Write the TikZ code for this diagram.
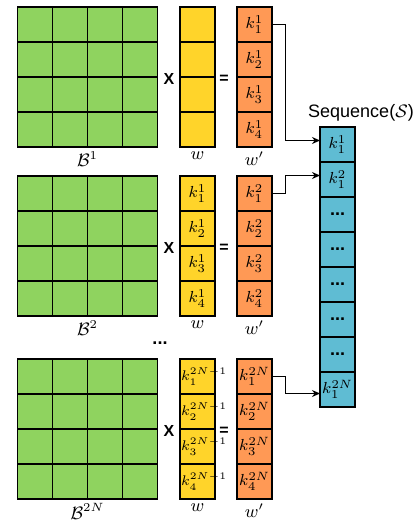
\documentclass[tikz,border=0pt]{standalone}
\usepackage{amsmath,amssymb}
\usepackage{fontspec}
\setsansfont{Liberation Sans}
\usetikzlibrary{positioning,calc}
\usetikzlibrary{arrows.meta}
\definecolor{GridGreen}{RGB}{143,211,95}
\definecolor{WYellow}{RGB}{255,212,42}
\definecolor{WOrange}{RGB}{255,153,85}
\definecolor{SeqBlue}{RGB}{95,188,211}
\newcommand{\seqdots}{{\sffamily\bfseries\fontsize{9}{10}\selectfont ...}}
\tikzset{
  cell/.style={draw=black,line width=0.6pt,minimum size=17.5pt,inner sep=0pt,outer sep=0pt,
    font=\fontsize{8}{9}\selectfont},
  bcell/.style={cell,fill=GridGreen},
  ycell/.style={cell,fill=WYellow},
  ocell/.style={cell,fill=WOrange},
  scell/.style={cell,fill=SeqBlue},
  op/.style={font=\sffamily\bfseries\fontsize{8}{9}\selectfont},
  lbl/.style={font=\fontsize{9}{10}\selectfont,inner sep=1pt},
  link/.style={draw=black,line width=0.5pt,-{Stealth[length=4pt,width=3.5pt]}},
}

\begin{document}
\begin{tikzpicture}[x=0.5pt,y=-0.5pt]
\useasboundingbox (0,0) rectangle (416,520);
% three blocks: B^k times w gives w'
\foreach \blk/\ytop/\bsup/\wsup in {1/7/1/0,2/176/2/1,3/359/2N/2N{-}1}{
  \foreach \r in {1,2,3,4}{
    \foreach \c in {1,2,3,4}
      \node[bcell] (b\blk-\r-\c) at ({35*\c},{\ytop+35*\r-17.5}) {};
    \node[ycell] (w\blk-\r) at (197.5,{\ytop+35*\r-17.5})
      {\ifcase\blk\or\or\makebox[0pt]{$k_{\r}^{\wsup}$}\or
       \fontsize{7}{8}\selectfont\makebox[0pt][l]{\hspace{-8.2pt}$k_{\r}^{\wsup}$}\fi};
    \node[ocell] (o\blk-\r) at (254.5,{\ytop+35*\r-17.5}) {\makebox[0pt]{$k_{\r}^{\bsup}$}};
  }
  \node[op] (times\blk) at (169,{\ytop+72}) {X};
  \node[op] (eq\blk) at (224,{\ytop+72}) {=};
  \node[lbl,below=1pt of b\blk-4-2.south east] (B\blk) {$\mathcal{B}^{\bsup}$};
  \node[lbl,below=1pt of w\blk-4] (wl\blk) {$w$};
  \node[lbl,below=1pt of o\blk-4] (wp\blk) {$w'$};
}
\node (gap) at (160,343) {\seqdots};
% the sequence column
\foreach \i in {1,2,3,4,5,6,7,8}
  \node[scell] (s\i) at (337.5,{127+35*\i-17.5})
    {\ifcase\i\or$k_1^1$\or$k_1^2$\or\seqdots\or\seqdots\or\seqdots\or\seqdots\or\seqdots\or$k_1^{2N}$\fi};
\node[lbl,font=\sffamily\fontsize{9}{10}\selectfont] (seqname) at (361,113) {Sequence($\mathcal{S}$)};
\draw[link] (o1-1.east) -- ++(13,0) |- ([yshift=2pt]s1.west);
\draw[link] (o2-1.east) -- ++(13,0) |- ([yshift=2pt]s2.west);
\draw[link] (o3-1.east) -- ++(13,0) |- ([yshift=-2pt]s8.west);
\end{tikzpicture}
\end{document}
